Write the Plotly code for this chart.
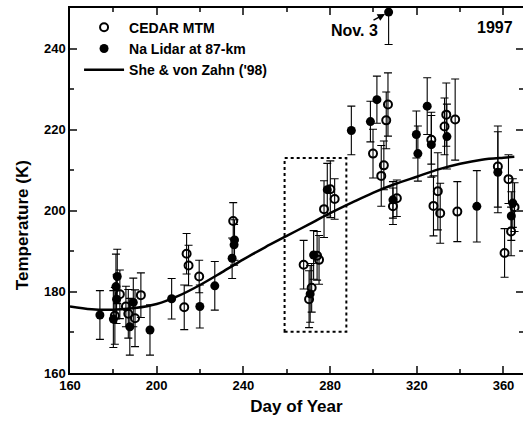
import plotly.graph_objects as go

# CEDAR MTM (open circles)
mtm_day = [180.7, 183.0, 185.8, 186.9, 190.0, 192.7, 212.7, 213.8, 214.7, 219.6,
           235.3, 267.8, 270.3, 271.5, 274.0, 274.9, 277.2, 280.1, 282.1,
           299.8, 303.6, 304.8, 305.9, 306.7, 309.0, 310.8,
           326.7, 327.7, 329.7, 330.8, 332.8, 333.6, 337.7, 338.7,
           357.4, 360.5, 362.3, 363.5, 365.1]
mtm_temp = [174.1, 179.4, 176.4, 174.6, 173.5, 179.2, 176.2, 189.4, 186.5, 183.8,
            197.5, 186.7, 178.2, 181.0, 188.9, 187.9, 200.4, 205.3, 202.9,
            214.1, 208.6, 211.2, 222.3, 226.2, 201.1, 203.1,
            217.5, 201.2, 204.8, 199.4, 220.8, 223.7, 222.5, 199.8,
            210.9, 189.6, 207.8, 194.9, 200.9]
mtm_err = [7, 6, 5, 6, 7, 5.5, 5.5, 5, 5, 4,
           4.5, 6, 7, 6, 6, 6, 7, 7, 5,
           6, 7.5, 6, 7, 7.8, 4.5, 4.5,
           6, 7.4, 9.5, 7.4, 7, 7.8, 10, 7.4,
           10, 6, 6, 6, 6]

# Na Lidar at 87 km (filled circles)
lid_day = [173.8, 180.0, 181.2, 181.8, 181.5, 187.6, 189.2, 196.9, 206.9,
           219.9, 226.8, 234.8, 235.7, 235.9, 270.8, 272.4, 278.7,
           289.8, 298.6, 301.6, 307.0, 309.0, 319.8, 320.5, 324.8, 326.7,
           333.9, 347.7, 357.4, 363.6, 364.3]
lid_temp = [174.3, 173.3, 181.3, 183.8, 178.2, 171.4, 177.4, 170.6, 178.3,
            176.4, 181.5, 188.3, 191.6, 192.8, 179.5, 189.1, 205.2,
            219.8, 222.0, 227.4, 249.0, 202.7, 218.8, 214.1, 225.8, 216.3,
            218.3, 201.1, 209.5, 198.7, 201.9]
lid_err = [6, 7, 8, 6.7, 6, 7, 6, 6.2, 5,
           5.3, 6, 5, 5, 5, 7, 6, 6.5,
           6, 5, 5.8, 8, 4.5, 5.8, 6.8, 7, 8,
           8, 8.8, 10, 6, 6]

# She & von Zahn ('98) climatology curve
svz_day = [160, 170, 180, 190, 200, 210, 220, 230, 240, 250, 260, 270,
           280, 290, 300, 310, 320, 330, 340, 350, 360, 365]
svz_temp = [176.4, 175.7, 175.6, 176.0, 177.0, 179.0, 181.7, 184.8, 188.0,
            191.0, 193.8, 196.6, 199.4, 202.0, 204.5, 206.6, 208.4, 210.2,
            211.6, 212.6, 213.1, 213.3]

# dotted box (day range, temperature range)
box_day = [259, 287.5]
box_temp = [170.2, 213]

x_ticks = [160, 200, 240, 280, 320, 360]
y_ticks = [160, 180, 200, 220, 240]

FONT = "Liberation Sans, Arial, sans-serif"

fig = go.Figure()

fig.add_trace(go.Scatter(
    x=mtm_day, y=mtm_temp, mode="markers", name="<b>CEDAR MTM</b>",
    marker=dict(symbol="circle-open", size=8, color="black", line=dict(width=2, color="black")),
    error_y=dict(type="data", array=mtm_err, color="black", thickness=1.1, width=4),
))
fig.add_trace(go.Scatter(
    x=lid_day, y=lid_temp, mode="markers", name="<b>Na Lidar at 87-km</b>",
    marker=dict(symbol="circle", size=9, color="black"),
    error_y=dict(type="data", array=lid_err, color="black", thickness=1.1, width=4),
))
fig.add_trace(go.Scatter(
    x=svz_day, y=svz_temp, mode="lines", name="<b>She &amp; von Zahn ('98)</b>",
    line=dict(color="black", width=2.5, shape="spline"),
))

fig.add_shape(type="rect", xref="x", yref="y",
              x0=box_day[0], x1=box_day[1], y0=box_temp[0], y1=box_temp[1],
              line=dict(color="black", width=2, dash="dot"))

fig.add_annotation(x=307, y=249, xref="x", yref="y", text="<b>Nov. 3</b>",
                   showarrow=True, ax=-34, ay=18, arrowhead=2, arrowsize=1,
                   arrowwidth=1.5, arrowcolor="black", standoff=4,
                   font=dict(family=FONT, size=16, color="black"))
fig.add_annotation(x=356, y=245.2, xref="x", yref="y", text="<b>1997</b>",
                   showarrow=False, font=dict(family=FONT, size=16, color="black"))
fig.add_annotation(x=-0.106, y=0.405, xref="paper", yref="paper",
                   text="<b>Temperature (K)</b>", textangle=-90, showarrow=False,
                   xanchor="center", yanchor="middle",
                   font=dict(family=FONT, size=17, color="black"))

fig.update_layout(
    width=523, height=425,
    margin=dict(l=70, r=0, t=8, b=52),
    paper_bgcolor="white", plot_bgcolor="white",
    font=dict(family=FONT, size=13, color="black"),
    showlegend=True,
    legend=dict(x=0.02, y=0.99, xanchor="left", yanchor="top",
                bgcolor="rgba(0,0,0,0)", font=dict(family=FONT, size=14, color="black"),
                itemwidth=40, tracegroupgap=0),
)
fig.update_xaxes(
    range=[160, 369], tickvals=x_ticks, ticktext=[f"<b>{v}</b>" for v in x_ticks],
    ticks="inside", ticklen=7, tickwidth=1.5,
    showline=True, linecolor="black", linewidth=1.5, mirror="allticks",
    showgrid=False, zeroline=False, automargin=False,
    minor=dict(dtick=20, tick0=160, ticks="inside", ticklen=4, tickwidth=1.5, showgrid=False),
    title=dict(text="<b>Day of Year</b>", font=dict(family=FONT, size=17), standoff=8),
    tickfont=dict(family=FONT, size=13),
)
fig.update_yaxes(
    range=[160, 250], tickvals=y_ticks, ticktext=[f"<b>{v}</b>" for v in y_ticks],
    ticks="inside", ticklen=7, tickwidth=1.5,
    showline=True, linecolor="black", linewidth=1.5, mirror="allticks",
    showgrid=False, zeroline=False, automargin=False,
    minor=dict(dtick=10, tick0=160, ticks="inside", ticklen=4, tickwidth=1.5, showgrid=False),
    tickfont=dict(family=FONT, size=13),
)

fig.write_html("out.html", config={"displayModeBar": False},
               post_script="document.body.style.margin='0';document.body.style.padding='0';")
